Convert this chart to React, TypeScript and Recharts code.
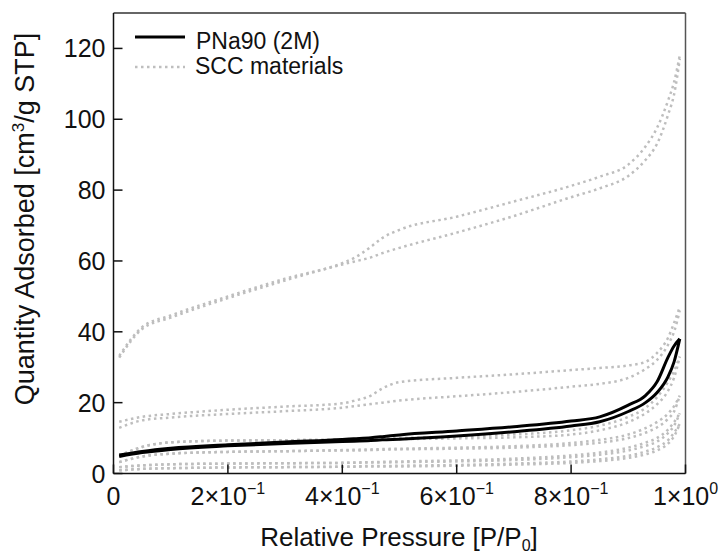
import { LineChart, Line, XAxis, YAxis, ReferenceLine, Legend } from 'recharts'

// relative pressure grid shared by every branch
const pressure = [0.01, 0.05, 0.1, 0.2, 0.3, 0.4, 0.42, 0.45, 0.47, 0.5, 0.6, 0.7, 0.8, 0.85, 0.9, 0.93, 0.95, 0.97, 0.98, 0.99]

// PNa90 (2M): adsorption / desorption branch
const pnaAds = [4.8, 5.9, 6.8, 7.8, 8.5, 9.0, 9.1, 9.3, 9.5, 9.7, 10.6, 11.8, 13.4, 14.6, 17.5, 20, 22.8, 27.5, 31.5, 38]
const pnaDes = [5.2, 6.2, 7.1, 8.1, 8.9, 9.6, 9.8, 10.1, 10.4, 10.9, 12, 13.2, 14.8, 16, 19.3, 22, 25.8, 33, 36, 38]

// SCC materials (gray dotted), one ads/des pair each
const sccAAds = [32.7, 40.8, 44, 49.5, 54.5, 59, 59.8, 61, 62.2, 63.7, 68, 72.7, 78, 80.5, 84, 88.5, 93, 101.5, 107, 117]
const sccADes = [33.2, 41.3, 44.6, 50, 55, 59.4, 60.8, 64, 66.5, 68.8, 72.5, 76.8, 81.2, 83.8, 87.2, 92.3, 97.5, 105.5, 110.5, 118]
const sccBAds = [12.9, 15, 15.8, 16.8, 17.6, 18.6, 19, 19.6, 20, 20.6, 21.8, 23, 24.5, 25.3, 27, 29.5, 32, 36.5, 40, 46]
const sccBDes = [14.6, 16, 16.8, 18, 18.9, 19.8, 20.5, 22, 24, 25.8, 27, 28, 29.2, 29.8, 30.5, 31.5, 34, 38.5, 42.5, 47]
const sccCAds = [5, 7.5, 8.8, 9.3, 9.4, 9.5, 9.5, 9.6, 9.6, 9.7, 9.9, 10.2, 11, 12.2, 14.5, 17, 19.5, 23.5, 27, 33]
const sccCDes = [5, 7.5, 8.8, 9.3, 9.4, 9.6, 9.7, 9.8, 9.9, 10, 10.4, 11, 12.2, 13.5, 16, 18.5, 21.5, 26, 29, 33]
const sccDAds = [3.2, 4.8, 5.6, 6.1, 6.3, 6.5, 6.5, 6.6, 6.7, 6.8, 7, 7.3, 8, 8.7, 10, 11.5, 13, 15.5, 17.5, 22]
const sccDDes = [3.2, 4.8, 5.6, 6.1, 6.3, 6.6, 6.7, 6.8, 6.9, 7, 7.3, 7.7, 8.6, 9.5, 11, 12.8, 14.5, 17, 19, 22]
const sccEAds = [1.8, 2.3, 2.6, 2.8, 2.9, 3, 3, 3.1, 3.1, 3.2, 3.4, 3.8, 4.6, 5.3, 6.5, 7.8, 9, 11.5, 13.5, 17]
const sccEDes = [1.8, 2.3, 2.6, 2.8, 2.9, 3, 3.1, 3.2, 3.3, 3.4, 3.7, 4.2, 5.1, 5.9, 7.3, 8.7, 10, 12.5, 14.5, 17]
const sccFAds = [0.9, 1.3, 1.5, 1.7, 1.8, 1.9, 1.9, 2, 2, 2, 2.2, 2.5, 3, 3.5, 4.4, 5.4, 6.5, 8.5, 10.5, 14]
const sccFDes = [0.9, 1.3, 1.5, 1.7, 1.8, 1.9, 2, 2.1, 2.1, 2.2, 2.4, 2.8, 3.4, 4, 5, 6.2, 7.4, 9.5, 11.5, 14]

const sccBranches = [sccAAds, sccADes, sccBAds, sccBDes, sccCAds, sccCDes, sccDAds, sccDDes, sccEAds, sccEDes, sccFAds, sccFDes]

const xTicks = [0, 0.2, 0.4, 0.6, 0.8, 1]
const xTickMant = ['0', '2×10', '4×10', '6×10', '8×10', '1×10']
const xTickExp = ['', '−1', '−1', '−1', '−1', '0']
const yTicks = [0, 20, 40, 60, 80, 100, 120]

const FONT = '"Liberation Sans", Arial, Helvetica, sans-serif'
const INK = '#111'
const GRAY = '#bebebe'

const rows = (ys: number[]) => pressure.map((p, i) => ({ p, q: ys[i] }))

function YTick({ x, y, payload }: any) {
  return (
    <g>
      <line x1={x} x2={x + 9} y1={y} y2={y} stroke={INK} strokeWidth={1.5} />
      <text x={x - 8} y={y} dy="0.36em" textAnchor="end" fontSize={25} fontFamily={FONT} fill={INK}>{payload.value}</text>
    </g>
  )
}

function XTick({ x, y, payload }: any) {
  const i = xTicks.indexOf(payload.value)
  return (
    <g>
      <line x1={x} x2={x} y1={y} y2={y - 9} stroke={INK} strokeWidth={1.5} />
      <text x={x} y={y + 31} textAnchor="middle" fontSize={25} fontFamily={FONT} fill={INK}>
        {xTickMant[i]}
        {xTickExp[i] && <tspan dy={-11} fontSize={16}>{xTickExp[i]}</tspan>}
      </text>
    </g>
  )
}

function YTitle() {
  return (
    <text transform="translate(34, 219) rotate(-90)" textAnchor="middle" fontSize={27} fontFamily={FONT} fill={INK}>
      Quantity Adsorbed [cm<tspan dy={-10} fontSize={17}>3</tspan><tspan dy={10}>/g STP]</tspan>
    </text>
  )
}

function XTitle() {
  return (
    <text x={399} y={546} textAnchor="middle" fontSize={26} fontFamily={FONT} fill={INK}>
      Relative Pressure [P/P<tspan dy={5} fontSize={16}>0</tspan><tspan dy={-5}>]</tspan>
    </text>
  )
}

function LegendBox() {
  const txt = { position: 'absolute' as const, fontSize: 23, fontFamily: FONT, color: INK, lineHeight: '22px', whiteSpace: 'nowrap' as const }
  return (
    <div style={{ position: 'relative', width: 0, height: 0 }}>
      <svg style={{ position: 'absolute', left: 0, top: 0 }} width={200} height={80}>
        <line x1={135} x2={185} y1={37} y2={37} stroke="#000" strokeWidth={3} />
        <line x1={135} x2={185} y1={67} y2={67} stroke={GRAY} strokeWidth={2.5} strokeDasharray="2.5 3.5" />
      </svg>
      <div style={{ ...txt, left: 196, top: 30 }}>PNa90 (2M)</div>
      <div style={{ ...txt, left: 195, top: 55 }}>SCC materials</div>
    </div>
  )
}

export default function App() {
  return (
    <div style={{ position: 'absolute', left: 0, top: 0, background: '#fff' }}>
      <LineChart width={720} height={554} margin={{ top: 13, right: 34.5, bottom: 0, left: 0 }}>
        <XAxis type="number" dataKey="p" domain={[0, 1]} ticks={xTicks} interval={0}
          tickSize={0} tickMargin={0} tick={<XTick />} height={80.5}
          axisLine={{ stroke: INK, strokeWidth: 1.5 }} tickLine={false} label={<XTitle />} />
        <YAxis type="number" domain={[0, 130]} ticks={yTicks} interval={0}
          tickSize={0} tickMargin={0} tick={<YTick />} width={113.5}
          axisLine={{ stroke: INK, strokeWidth: 1.5 }} tickLine={false} label={<YTitle />} />
        <ReferenceLine y={130} stroke="#333" strokeWidth={1.5} />
        <ReferenceLine x={1} stroke="#555" strokeWidth={1.5} />
        {sccBranches.map((ys, i) => (
          <Line key={'scc' + i} data={rows(ys)} dataKey="q" type="monotone" stroke={GRAY}
            strokeWidth={2.5} strokeDasharray="2.5 3.5" dot={false} isAnimationActive={false} legendType="none" />
        ))}
        <Line data={rows(pnaAds)} dataKey="q" type="monotone" stroke="#000" strokeWidth={3} dot={false} isAnimationActive={false} />
        <Line data={rows(pnaDes)} dataKey="q" type="monotone" stroke="#000" strokeWidth={3} dot={false} isAnimationActive={false} />
        <Legend layout="horizontal" verticalAlign="middle" align="center" content={<LegendBox />}
          wrapperStyle={{ left: 0, top: 0, width: 0, height: 0 }} />
      </LineChart>
    </div>
  )
}
